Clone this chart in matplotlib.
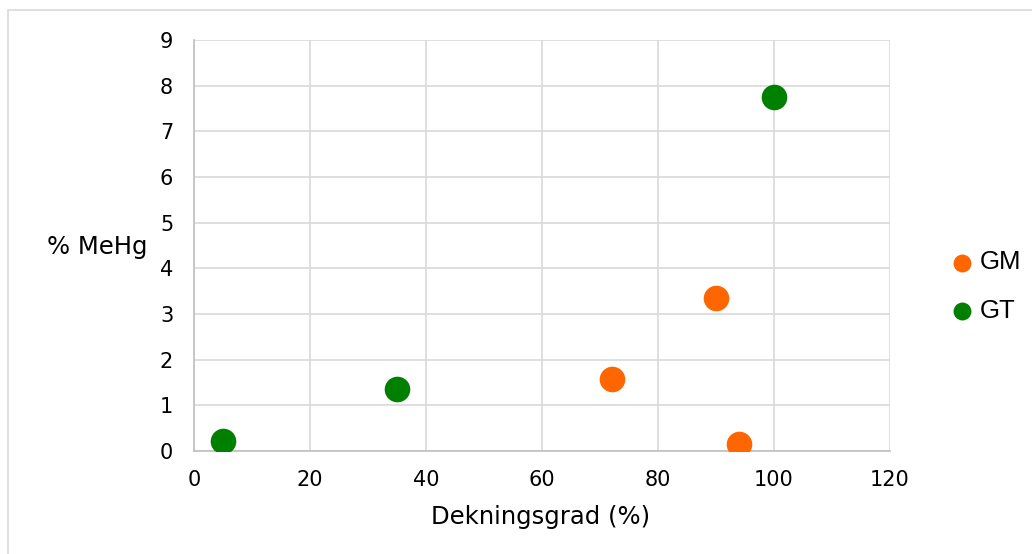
import matplotlib.pyplot as plt
from matplotlib.patches import Rectangle

# GM og GT: dekningsgrad (%) mot % MeHg
gm_x = [72, 90, 94]
gm_y = [1.57, 3.34, 0.16]
gt_x = [5, 35, 100]
gt_y = [0.21, 1.36, 7.76]

x_ticks = [0, 20, 40, 60, 80, 100, 120]
y_ticks = list(range(10))

W, H = 1032, 554
fig = plt.figure(figsize=(W / 100, H / 100), dpi=100)
fig.patches.append(Rectangle((8 / W, -0.1), 1.2, (H - 10) / H + 0.1,
                             transform=fig.transFigure, fill=False,
                             edgecolor="#d9d9d9", linewidth=1.2))

ax = fig.add_axes([194 / W, (H - 451) / H, (890 - 194) / W, (451 - 40) / H])
ax.scatter(gm_x, gm_y, s=340, color="#ff6600", label="GM", zorder=3, linewidths=0)
ax.scatter(gt_x, gt_y, s=340, color="#008000", label="GT", zorder=3, linewidths=0)

ax.set_xlim(0, 120)
ax.set_ylim(0, 9)
ax.set_xticks(x_ticks)
ax.set_yticks(y_ticks)
ax.grid(True, color="#d9d9d9", linewidth=1.2)
ax.set_axisbelow(True)
for side in ["top", "right"]:
    ax.spines[side].set_visible(False)
for side in ["left", "bottom"]:
    ax.spines[side].set_color("#bfbfbf")
    ax.spines[side].set_linewidth(1.2)
ax.tick_params(length=0, labelsize=15, colors="#000000", pad=15)
ax.tick_params(axis="x", pad=14)

fig.text(541 / W, 1 - 517 / H, "Dekningsgrad (%)", fontsize=17.5,
         ha="center", va="center")
fig.text(97 / W, 1 - 247 / H, "% MeHg", fontsize=17.5, ha="center", va="center")

ax.legend(loc="center left", bbox_to_anchor=(1.087, 0.40), frameon=False,
          prop={"family": "Liberation Sans", "size": 18.5}, markerscale=0.7,
          handlelength=0.9, handletextpad=0.25, labelspacing=0.95,
          borderpad=0, borderaxespad=0)

fig.savefig("out.png", dpi=100)
